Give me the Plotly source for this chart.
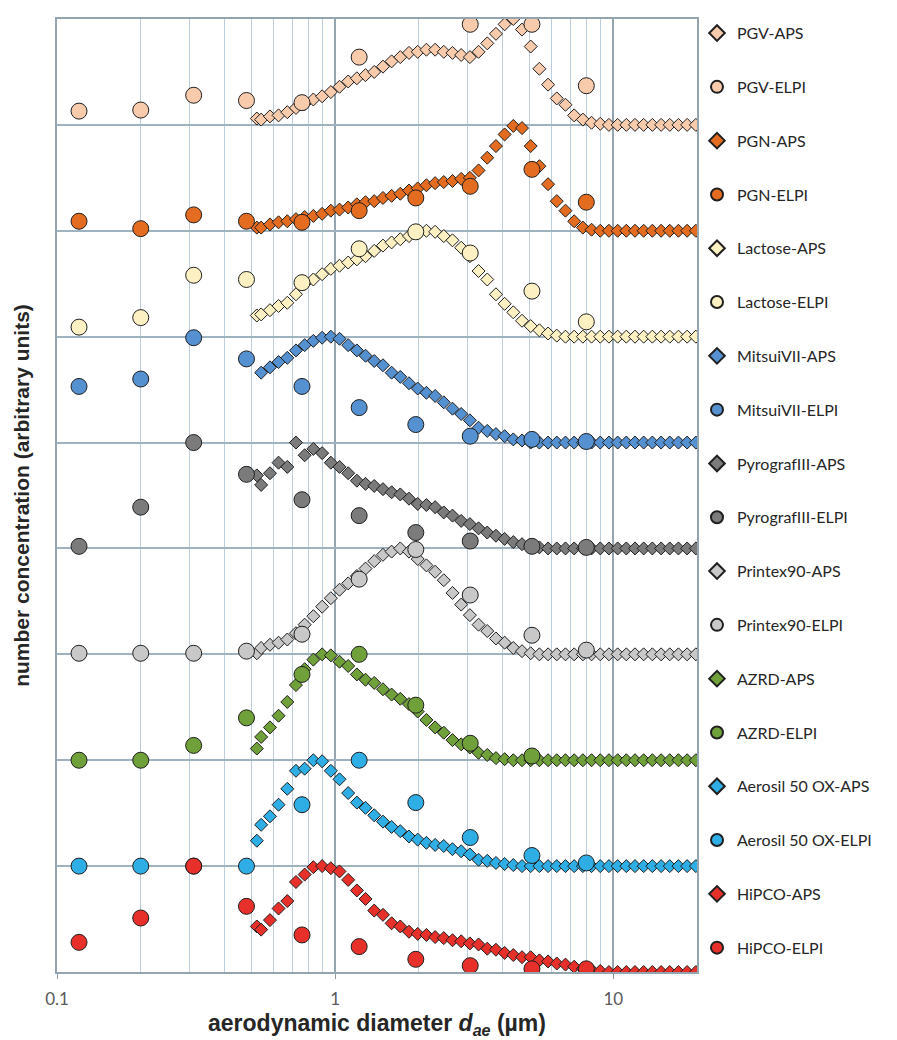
import plotly.graph_objects as go

# APS channel midpoints (µm)
aps_d = [0.523, 0.542, 0.583, 0.626, 0.673, 0.723, 0.777, 0.835, 0.898, 0.965,
         1.037, 1.114, 1.197, 1.286, 1.382, 1.486, 1.596, 1.715, 1.843, 1.981,
         2.129, 2.288, 2.458, 2.642, 2.839, 3.051, 3.278, 3.523, 3.786, 4.068,
         4.371, 4.698, 5.048, 5.425, 5.829, 6.264, 6.732, 7.234, 7.774, 8.354,
         8.977, 9.647, 10.37, 11.14, 11.97, 12.86, 13.82, 14.86, 15.96, 17.15,
         18.43, 19.81]

# ELPI stage midpoints (µm)
elpi_d = [0.12, 0.20, 0.31, 0.48, 0.76, 1.22, 1.95, 3.06, 5.1, 8.0]

# normalised number concentrations (peak = 1)
pgv_aps = [0.06, 0.05, 0.08, 0.09, 0.12, 0.16, 0.20, 0.24, 0.27, 0.31,
           0.36, 0.41, 0.44, 0.47, 0.50, 0.55, 0.60, 0.64, 0.68, 0.69,
           0.71, 0.71, 0.69, 0.68, 0.66, 0.64, 0.69, 0.77, 0.86, 0.95,
           1.00, 0.90, 0.74, 0.53, 0.38, 0.25, 0.19, 0.09, 0.05, 0.02,
           0.01, 0, 0, 0, 0, 0, 0, 0, 0, 0, 0, 0]
pgv_elpi = [0.13, 0.14, 0.28, 0.23, 0.21, 0.64, None, 0.95, 0.95, 0.37]

pgn_aps = [0.03, 0.03, 0.06, 0.08, 0.09, 0.11, 0.13, 0.14, 0.16, 0.19,
           0.20, 0.22, 0.25, 0.27, 0.28, 0.31, 0.33, 0.35, 0.38, 0.40,
           0.43, 0.45, 0.46, 0.47, 0.49, 0.50, 0.57, 0.69, 0.80, 0.91,
           0.99, 0.97, 0.80, 0.61, 0.44, 0.28, 0.19, 0.09, 0.03, 0.01,
           0, 0, 0, 0, 0, 0, 0, 0, 0, 0, 0, 0]
pgn_elpi = [0.09, 0.02, 0.15, 0.09, 0.08, 0.19, 0.31, 0.42, 0.58, 0.27]

lactose_aps = [0.20, 0.21, 0.25, 0.29, 0.32, 0.40, 0.50, 0.54, 0.59, 0.64,
               0.67, 0.70, 0.73, 0.76, 0.81, 0.86, 0.89, 0.92, 0.95, 0.98,
               1.00, 0.99, 0.95, 0.91, 0.84, 0.76, 0.62, 0.54, 0.40, 0.31,
               0.23, 0.15, 0.10, 0.06, 0.03, 0.01, 0, 0, 0, 0,
               0, 0, 0, 0, 0, 0, 0, 0, 0, 0, 0, 0]
lactose_elpi = [0.09, 0.18, 0.58, 0.54, 0.51, 0.83, 0.99, 0.79, 0.43, 0.14]

mitsui_aps = [None, 0.66, 0.71, 0.76, 0.80, 0.87, 0.92, 0.96, 0.99, 1.00,
              0.98, 0.92, 0.87, 0.82, 0.77, 0.73, 0.66, 0.62, 0.56, 0.51,
              0.47, 0.44, 0.38, 0.32, 0.27, 0.21, 0.14, 0.11, 0.08, 0.06,
              0.03, 0.02, 0, 0, 0, 0, 0, 0, 0, 0,
              0, 0, 0, 0, 0, 0, 0, 0, 0, 0, 0, 0]
mitsui_elpi = [0.53, 0.60, 0.99, 0.79, 0.53, 0.33, 0.17, 0.06, 0.03, 0.01]

pyrograf_aps = [0.69, 0.60, 0.71, 0.81, 0.77, 1.00, 0.88, 0.94, 0.90, 0.81,
                0.77, 0.71, 0.64, 0.61, 0.59, 0.56, 0.53, 0.51, 0.47, 0.42,
                0.41, 0.39, 0.34, 0.31, 0.26, 0.23, 0.19, 0.15, 0.12, 0.09,
                0.06, 0.04, 0.03, 0.01, 0, 0, 0, 0, 0, 0,
                0, 0, 0, 0, 0, 0, 0, 0, 0, 0, 0, 0]
pyrograf_elpi = [0.02, 0.39, 1.00, 0.70, 0.46, 0.31, 0.15, 0.07, 0.02, 0.01]

printex_aps = [0.01, 0.06, 0.09, 0.11, 0.14, 0.20, 0.28, 0.36, 0.45, 0.53,
               0.61, 0.67, 0.74, 0.81, 0.88, 0.94, 0.97, 1.00, 0.97, 0.90,
               0.84, 0.78, 0.70, 0.58, 0.47, 0.37, 0.28, 0.22, 0.15, 0.11,
               0.06, 0.03, 0.01, 0, 0, 0, 0, 0, 0, 0,
               0, 0, 0, 0, 0, 0, 0, 0, 0, 0, 0, 0]
printex_elpi = [0.01, 0.01, 0.01, 0.03, 0.19, 0.71, 0.99, 0.56, 0.18, 0.04]

azrd_aps = [0.11, 0.22, 0.31, 0.42, 0.55, 0.71, 0.86, 0.95, 1.00, 0.99,
            0.93, 0.89, 0.81, 0.76, 0.73, 0.67, 0.62, 0.58, 0.53, 0.46,
            0.38, 0.31, 0.26, 0.19, 0.15, 0.12, 0.07, 0.05, 0.02, 0.01,
            0, 0, 0, 0, 0, 0, 0, 0, 0, 0,
            0, 0, 0, 0, 0, 0, 0, 0, 0, 0, 0, 0]
azrd_elpi = [0.0, 0.0, 0.14, 0.40, 0.81, 1.00, 0.52, 0.16, 0.04, None]

aerosil_aps = [0.24, 0.39, 0.47, 0.58, 0.73, 0.90, 0.92, 1.00, 0.99, 0.90,
               0.82, 0.69, 0.60, 0.55, 0.48, 0.42, 0.37, 0.33, 0.28, 0.25,
               0.22, 0.20, 0.19, 0.16, 0.14, 0.11, 0.06, 0.05, 0.03, 0.02,
               0.01, 0, 0, 0, 0, 0, 0, 0, 0, 0,
               0, 0, 0, 0, 0, 0, 0, 0, 0, 0, 0, 0]
aerosil_elpi = [0.0, 0.0, 0.0, 0.0, 0.58, 1.00, 0.60, 0.27, 0.10, 0.03]

hipco_aps = [0.43, 0.40, 0.49, 0.60, 0.67, 0.85, 0.92, 0.99, 1.00, 0.98,
             0.95, 0.87, 0.77, 0.69, 0.58, 0.54, 0.46, 0.43, 0.38, 0.36,
             0.35, 0.33, 0.32, 0.30, 0.29, 0.27, 0.26, 0.22, 0.21, 0.18,
             0.16, 0.14, 0.14, 0.11, 0.10, 0.08, 0.07, 0.05, 0.03, 0.02,
             0.01, 0, 0, 0, 0, 0, 0, 0, 0, 0, 0, 0]
hipco_elpi = [0.28, 0.51, 1.00, 0.62, 0.35, 0.24, 0.12, 0.06, 0.03, 0.03]

materials = ["PGV", "PGN", "Lactose", "MitsuiVII", "PyrografIII",
             "Printex90", "AZRD", "Aerosil 50 OX", "HiPCO"]
colors = ["#F8CBAD", "#E36C21", "#FDF1C3", "#5590D0", "#7B7B7B",
          "#C8C8C8", "#70A03A", "#2FAEE6", "#E8302B"]
aps_series = [pgv_aps, pgn_aps, lactose_aps, mitsui_aps, pyrograf_aps,
              printex_aps, azrd_aps, aerosil_aps, hipco_aps]
elpi_series = [pgv_elpi, pgn_elpi, lactose_elpi, mitsui_elpi, pyrograf_elpi,
               printex_elpi, azrd_elpi, aerosil_elpi, hipco_elpi]

n = len(materials)
edge = dict(color="#1f1f1f", width=1)

fig = go.Figure()
for i, (name, col, aps, elpi) in enumerate(zip(materials, colors, aps_series, elpi_series)):
    offset = n - 1 - i  # each material stacked on its own baseline
    fig.add_trace(go.Scatter(
        x=aps_d, y=[None if v is None else v + offset for v in aps],
        mode="markers", name=f"{name}-APS", legendgroup=f"{name}-APS",
        marker=dict(symbol="diamond", size=10, color=col, line=edge)))
    fig.add_trace(go.Scatter(
        x=elpi_d, y=[None if v is None else v + offset for v in elpi],
        mode="markers", name=f"{name}-ELPI", legendgroup=f"{name}-ELPI",
        marker=dict(symbol="circle", size=16, color=col, line=edge)))

minor_vals = [0.2, 0.3, 0.4, 0.5, 0.6, 0.7, 0.8, 0.9,
              2, 3, 4, 5, 6, 7, 8, 9, 20]

fig.update_layout(
    width=897, height=1040,
    margin=dict(l=57, r=200, t=19, b=68),
    paper_bgcolor="white", plot_bgcolor="white",
    showlegend=True,
    legend=dict(x=1.0, xanchor="left", y=1.003, yanchor="top",
                tracegroupgap=30, itemsizing="constant", maxheight=1000,
                font=dict(family="Lato", size=16, color="#262626"),
                bgcolor="rgba(0,0,0,0)"),
    xaxis=dict(
        type="log", range=[-1, 1.30103],
        tickvals=[0.1, 1, 10], ticktext=["0.1", "1", "10"],
        ticks="outside", ticklen=5, tickcolor="#8e9aa3",
        ticklabelstandoff=6,
        tickfont=dict(family="Lato", size=17, color="#595959"),
        showgrid=True, gridcolor="#95a5b0", gridwidth=1.5,
        minor=dict(tickvals=minor_vals, showgrid=True,
                   gridcolor="#bccedb", gridwidth=1.3),
        showline=True, linecolor="#95a5b0", linewidth=1.5, mirror=True,
        zeroline=False, automargin=False,
        title=dict(text="<b>aerodynamic diameter <i>d</i><sub><i>ae</i></sub> (µm)</b>",
                   font=dict(family="Liberation Sans", size=23, color="#262626"),
                   standoff=7),
    ),
    yaxis=dict(
        range=[0, 9], tick0=0, dtick=1,
        showticklabels=False, ticks="",
        showgrid=True, gridcolor="#9fb2bf", gridwidth=1.5,
        showline=True, linecolor="#95a5b0", linewidth=1.5, mirror=True,
        zeroline=False, automargin=False,
        title=dict(text="<b>number concentration (arbitrary units)</b>",
                   font=dict(family="Liberation Sans", size=21, color="#262626"),
                   standoff=20),
    ),
)

fig.write_html("out.html")
